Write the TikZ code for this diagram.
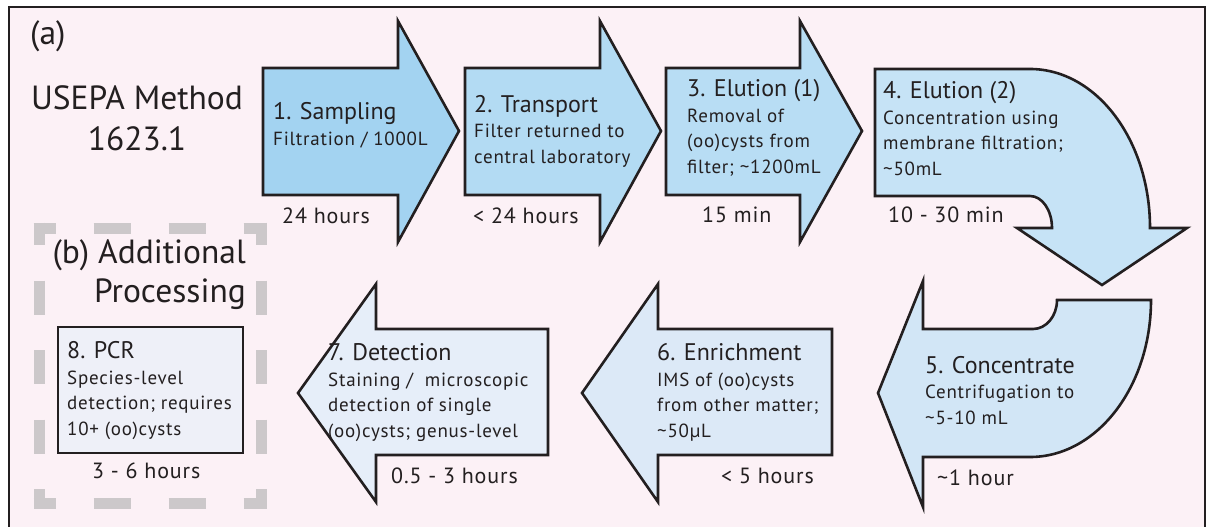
\documentclass[tikz,border=0pt]{standalone}
\usepackage{fontspec}
\setmainfont{PT Sans}
\newfontfamily\spacedsans[LetterSpace=4]{PT Sans}
\usetikzlibrary{positioning}

\definecolor{bgpink}{HTML}{FCF1F6}
\definecolor{inkdark}{HTML}{231F20}
\definecolor{dashgrey}{HTML}{CCC8CA}
\definecolor{stepA}{HTML}{A3D3F1}
\definecolor{stepB}{HTML}{B3DBF3}
\definecolor{stepC}{HTML}{B8DDF4}
\definecolor{stepD}{HTML}{C6E3F6}
\definecolor{stepE}{HTML}{D2E6F6}
\definecolor{stepF}{HTML}{DCE9F7}
\definecolor{stepG}{HTML}{E6EEF9}
\definecolor{stepH}{HTML}{EEF0F8}

\newcommand{\bigfnt}{\fontsize{33.5}{41}\selectfont}
\newcommand{\ttlfnt}{\rmfamily\fontsize{24}{25.5}\selectfont}
\newcommand{\subfnt}{\spacedsans\fontsize{19}{25.5}\selectfont}
\newcommand{\timefnt}{\spacedsans\fontsize{22}{26}\selectfont}

\tikzset{
  flow/.style={draw=inkdark, line width=2.6pt, line join=miter},
  steptxt/.style={anchor=base west, align=left, inner sep=0pt, text=inkdark, font=\subfnt},
  timetxt/.style={anchor=base west, inner sep=0pt, text=inkdark, font=\timefnt},
  bigtxt/.style={inner sep=0pt, text=inkdark, font=\bigfnt},
  gdash/.style={draw=dashgrey, line width=11pt},
}

\begin{document}
\begin{tikzpicture}[x=1pt, y=-1pt]
  \useasboundingbox (0,0) rectangle (1207,527);
  \draw[line width=2.5pt, draw=inkdark, fill=bgpink] (9,7) rectangle (1205,540);

  % straight arrows, top row
  \foreach \xa/\xb/\xc/\col in {263/398/459/stepA, 465/600/661/stepB, 666/800/862/stepC}
    \draw[flow, fill=\col] (\xa,68) -- (\xb,68) -- (\xb,21) -- (\xc,131)
      -- (\xb,242) -- (\xb,195) -- (\xa,195) -- cycle;

  % bend down
  \draw[flow, fill=stepD] (875,69) -- (1030,69)
    .. controls (1096.3,69) and (1150,140.2) .. (1150,228)
    -- (1187,228) -- (1102,285) -- (1017,228) -- (1052,228)
    .. controls (1052,210.3) and (1042.2,196) .. (1030,196)
    -- (875,196) -- cycle;
  % bend back left
  \draw[flow, fill=stepE] (1151,300) -- (1057,300)
    .. controls (1057,316) and (1046.3,329) .. (1033,329)
    -- (923,329) -- (923,281) -- (878,393) -- (923,507) -- (923,457)
    -- (1030,457) .. controls (1096.8,457) and (1151,386.7) .. (1151,300) -- cycle;

  % straight arrows, bottom row
  \foreach \xa/\xb/\xc/\col in {832/658/582/stepF, 548/376/298/stepG}
    \draw[flow, fill=\col] (\xa,329) -- (\xb,329) -- (\xb,284) -- (\xc,393)
      -- (\xb,502) -- (\xb,455) -- (\xa,455) -- cycle;

  % additional processing
  \draw[gdash, dash pattern=on 37pt off 38pt, dash phase=15pt] (33.5,228) -- (266.5,228);
  \draw[gdash, dash pattern=on 37pt off 38pt, dash phase=15pt] (33.5,503) -- (266.5,503);
  \draw[gdash, dash pattern=on 34pt off 35.5pt, dash phase=11.5pt] (39,222.5) -- (39,508.5);
  \draw[gdash, dash pattern=on 34pt off 35.5pt, dash phase=11.5pt] (261,222.5) -- (261,508.5);
  \draw[line width=2.5pt, draw=inkdark, fill=stepH] (58,327) rectangle (243,453);

  \node[bigtxt, anchor=base west] (lbla) at (30,45) {(a)};
  \node[bigtxt, anchor=base, align=center] (usepa) at (137,150) {USEPA Method\\1623.1};
  \node[bigtxt, anchor=base east, align=right, font=\fontsize{33.5}{39}\selectfont] (lblb) at (246,302) {(b) Additional\\Processing};

  \node[steptxt] (sampling) at (273,145) {{\ttlfnt 1. Sampling}\\Filtration / 1000L};
  \node[steptxt] (transport) at (474,163) {{\ttlfnt 2. Transport}\\Filter returned to\\central laboratory};
  \node[steptxt] (elutiona) at (687,173) {{\ttlfnt 3. Elution (1)}\\Removal of\\(oo)cysts from\\filter; \textasciitilde1200mL};
  \node[steptxt] (elutionb) at (883,175) {{\ttlfnt 4. Elution (2)}\\Concentration using\\membrane filtration;\\\textasciitilde50mL};
  \node[steptxt] (concentrate) at (925,424) {{\ttlfnt 5. Concentrate}\\Centrifugation to\\\textasciitilde5-10 mL};
  \node[steptxt] (enrich) at (657,437) {{\ttlfnt 6. Enrichment}\\IMS of (oo)cysts\\from other matter;\\\textasciitilde50µL};
  \node[steptxt] (detect) at (328,437) {{\ttlfnt 7. Detection}\\Staining /\ \ microscopic\\detection of single\\(oo)cysts; genus-level};
  \node[steptxt] (pcr) at (67,435) {{\ttlfnt 8. PCR}\\Species-level\\detection; requires\\10+ (oo)cysts};

  \node[timetxt] (tsampling) at (282,223) {24 hours};
  \node[timetxt] (ttransport) at (473,223) {< 24 hours};
  \node[timetxt] (telutiona) at (702,222) {15 min};
  \node[timetxt] (telutionb) at (888,222) {10 - 30 min};
  \node[timetxt] (tconcentrate) at (937,485) {\textasciitilde1 hour};
  \node[timetxt] (tenrich) at (721,483) {< 5 hours};
  \node[timetxt] (tdetect) at (391,483) {0.5 - 3 hours};
  \node[timetxt] (tpcr) at (92,478) {3 - 6 hours};
\end{tikzpicture}
\end{document}
